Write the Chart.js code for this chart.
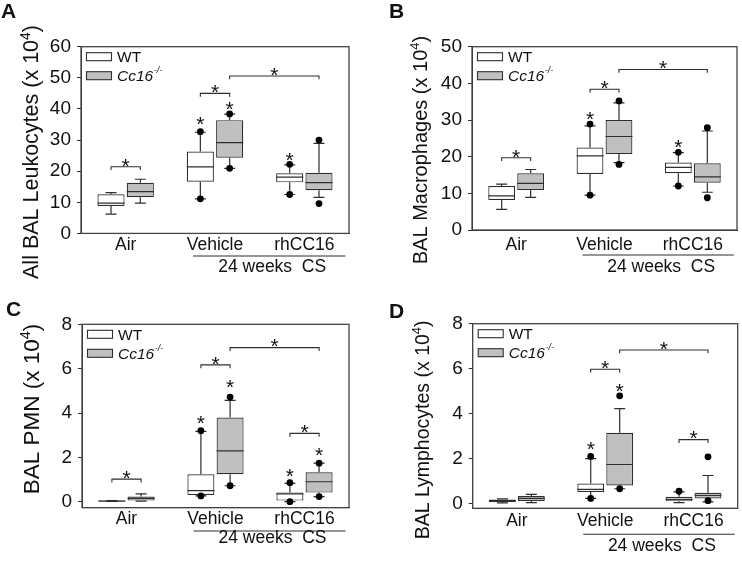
<!DOCTYPE html>
<html>
<head>
<meta charset="utf-8">
<script src="https://cdn.jsdelivr.net/npm/chart.js@4.4.1/dist/chart.umd.min.js"></script>
<style>
  html, body { margin: 0; padding: 0; background: #fff; }
  #fig { position: relative; width: 742px; height: 562px; }
  #fig canvas { position: absolute; }
</style>
</head>
<body>
<div id="fig">
  <canvas id="panelA" width="371" height="281" style="left:0;top:0"></canvas>
  <canvas id="panelB" width="371" height="281" style="left:371px;top:0"></canvas>
  <canvas id="panelC" width="371" height="281" style="left:0;top:281px"></canvas>
  <canvas id="panelD" width="371" height="281" style="left:371px;top:281px"></canvas>
</div>
<script>
const groups = ['Air', 'Vehicle', 'rhCC16'];

// box stats per group: [lower whisker, Q1, median, Q3, upper whisker]
// stars: [group, series (0 = WT, 1 = Cc16-/-), y]; brackets: [group, series, group, series, y]

// A - all BAL leukocytes (x 10^4)
const leukTicks = [0, 10, 20, 30, 40, 50, 60];
const leukWT = [[6.2, 8.8, 9.7, 12.6, 13.1], [11.1, 16.6, 21.4, 26.3, 32.5], [12.5, 16.4, 18.1, 19.3, 22.0]];
const leukKO = [[9.7, 11.6, 13.4, 16.3, 17.4], [20.9, 24.3, 29.2, 36.4, 38.3], [11.6, 13.9, 16.3, 19.5, 28.9]];
const leukDotsWT = [[], [11.1, 32.7], [12.5, 22.2]];
const leukDotsKO = [[], [20.9, 38.4], [9.6, 30.0]];
const leukStars = [[1, 0, 36.8], [1, 1, 41.6], [2, 0, 25.2]];
const leukBrackets = [[0, 0, 0, 1, 21.4], [1, 0, 1, 1, 45.0], [1, 1, 2, 1, 50.6]];

// B - BAL macrophages (x 10^4)
const macTicks = [0, 10, 20, 30, 40, 50];
const macWT = [[5.6, 8.2, 9.3, 12.0, 12.5], [9.5, 15.3, 20.2, 22.5, 28.4], [12.0, 15.5, 17.1, 18.4, 21.1]];
const macKO = [[8.9, 10.9, 12.7, 15.5, 16.5], [18.4, 20.7, 25.5, 30.0, 34.7], [10.3, 12.9, 14.5, 18.2, 27.0]];
const macDotsWT = [[], [9.5, 28.9], [12.0, 21.2]];
const macDotsKO = [[], [17.9, 35.2], [8.8, 27.9]];
const macStars = [[1, 0, 31.8], [2, 0, 24.1]];
const macBrackets = [[0, 0, 0, 1, 19.7], [1, 0, 1, 1, 38.4], [1, 1, 2, 1, 43.8]];

// C - BAL PMN (x 10^4)
const pmnTicks = [0, 2, 4, 6, 8];
const pmnWT = [[0.01, 0.02, 0.03, 0.05, 0.05], [0.26, 0.30, 0.50, 1.24, 3.17], [0.0, 0.05, 0.35, 0.42, 0.83]];
const pmnKO = [[0.03, 0.05, 0.15, 0.23, 0.35], [0.72, 1.24, 2.29, 3.80, 4.57], [0.23, 0.41, 0.90, 1.33, 1.74]];
const pmnDotsWT = [[], [0.26, 3.20], [0.0, 0.86]];
const pmnDotsKO = [[], [0.72, 4.72], [0.23, 1.74]];
const pmnStars = [[1, 0, 3.79], [1, 1, 5.41], [2, 0, 1.40], [2, 1, 2.36]];
const pmnBrackets = [[0, 0, 0, 1, 1.02], [1, 0, 1, 1, 6.17], [1, 1, 2, 1, 6.95], [2, 0, 2, 1, 3.08]];

// D - BAL lymphocytes (x 10^4)
const lymTicks = [0, 2, 4, 6, 8];
const lymWT = [[0.02, 0.06, 0.11, 0.17, 0.20], [0.22, 0.51, 0.62, 0.88, 1.99], [0.03, 0.09, 0.18, 0.29, 0.51]];
const lymKO = [[0.03, 0.11, 0.22, 0.33, 0.40], [0.65, 0.80, 1.73, 3.14, 4.22], [0.07, 0.22, 0.35, 0.47, 1.24]];
const lymDotsWT = [[], [0.22, 2.09], [0.54]];
const lymDotsKO = [[], [0.65, 4.79], [0.12, 2.07]];
const lymStars = [[1, 0, 2.63], [1, 1, 5.23]];
const lymBrackets = [[1, 0, 1, 1, 5.97], [1, 1, 2, 1, 6.83], [2, 0, 2, 1, 2.84]];

const FONT = '"Liberation Sans", Arial, Helvetica, sans-serif';
const INK = '#2e2e2e';
const TEXT = '#111111';
const GREY = '#c0c0c0';

const panels = [
  { id: 'panelA', letter: 'A', letterPos: [1, 18], stats: [leukWT, leukKO], dots: [leukDotsWT, leukDotsKO],
    stars: leukStars, brackets: leukBrackets, ticks: leukTicks, yMin: 0, yMax: 60,
    area: { left: 81, right: 349, top: 46.7, bottom: 233.4 }, xPad: 1,
    title: 'All BAL Leukocytes (x 10', titleSize: 21.5, titlePos: [32, 152],
    csLine: 22.6, csText: 33.3 },
  { id: 'panelB', letter: 'B', letterPos: [18, 18], stats: [macWT, macKO], dots: [macDotsWT, macDotsKO],
    stars: macStars, brackets: macBrackets, ticks: macTicks, yMin: 0, yMax: 50,
    area: { left: 101, right: 366, top: 46.7, bottom: 230 }, xPad: 4.5,
    title: 'BAL Macrophages (x 10', titleSize: 20, titlePos: [50, 150],
    csLine: 25, csText: 36.7 },
  { id: 'panelC', letter: 'C', letterPos: [6, 35], stats: [pmnWT, pmnKO], dots: [pmnDotsWT, pmnDotsKO],
    stars: pmnStars, brackets: pmnBrackets, ticks: pmnTicks, yMin: -0.27, yMax: 8,
    area: { left: 82, right: 349, top: 43.3, bottom: 226.7 }, xPad: 0.8,
    title: 'BAL PMN (x 10', titleSize: 22.5, titlePos: [32, 128],
    csLine: 23.3, csText: 30 },
  { id: 'panelD', letter: 'D', letterPos: [18, 37], stats: [lymWT, lymKO], dots: [lymDotsWT, lymDotsKO],
    stars: lymStars, brackets: lymBrackets, ticks: lymTicks, yMin: -0.22, yMax: 8,
    area: { left: 101.7, right: 366.7, top: 42.7, bottom: 227.3 }, xPad: 2.2,
    title: 'BAL Lymphocytes (x 10', titleSize: 19.5, titlePos: [52, 149],
    csLine: 26, csText: 37.7 }
];

const STAR = 21;
function star(ctx, x, yc) {
  ctx.font = STAR + 'px ' + FONT;
  ctx.textAlign = 'center';
  ctx.textBaseline = 'alphabetic';
  ctx.fillText('*', x, yc + STAR * 0.58);
}

function boxExtras(p) {
  return {
    id: 'boxExtras',
    afterDatasetsDraw(chart) {
      const { ctx, chartArea: a, scales: { x, y } } = chart;
      const bar = (g, s) => chart.getDatasetMeta(s).data[g];
      ctx.save();
      ctx.strokeStyle = INK;
      ctx.fillStyle = TEXT;
      ctx.lineWidth = 1.2;

      // whiskers, caps, medians
      p.stats.forEach((rows, s) => rows.forEach((r, g) => {
        const el = bar(g, s), cx = el.x, half = el.width / 2;
        const [lo, q1, med, q3, hi] = r.map(v => y.getPixelForValue(v));
        ctx.beginPath();
        ctx.moveTo(cx, q3); ctx.lineTo(cx, hi);
        ctx.moveTo(cx - 5.5, hi); ctx.lineTo(cx + 5.5, hi);
        ctx.moveTo(cx, q1); ctx.lineTo(cx, lo);
        ctx.moveTo(cx - 5.5, lo); ctx.lineTo(cx + 5.5, lo);
        ctx.moveTo(cx - half, med); ctx.lineTo(cx + half, med);
        ctx.stroke();
      }));

      // outlier dots
      ctx.fillStyle = '#000';
      p.dots.forEach((rows, s) => rows.forEach((vals, g) => {
        vals.forEach(v => {
          ctx.beginPath();
          ctx.arc(bar(g, s).x, y.getPixelForValue(v), 3.4, 0, Math.PI * 2);
          ctx.fill();
        });
      }));

      // significance stars over boxes
      ctx.fillStyle = TEXT;
      p.stars.forEach(([g, s, v]) => star(ctx, bar(g, s).x, y.getPixelForValue(v)));

      // brackets
      ctx.lineWidth = 1.1;
      p.brackets.forEach(([g1, s1, g2, s2, v]) => {
        const x1 = bar(g1, s1).x, x2 = bar(g2, s2).x, yy = y.getPixelForValue(v);
        ctx.beginPath();
        ctx.moveTo(x1, yy + 3.3); ctx.lineTo(x1, yy); ctx.lineTo(x2, yy); ctx.lineTo(x2, yy + 3.3);
        ctx.stroke();
        star(ctx, (x1 + x2) / 2, yy - 6.3);
      });

      // frame
      ctx.lineWidth = 1.3;
      ctx.strokeStyle = '#444';
      ctx.strokeRect(a.left, a.top, a.right - a.left, a.bottom - a.top);

      // legend
      ctx.lineWidth = 1.1;
      ctx.strokeStyle = INK;
      [['#ffffff', 10], [GREY, 29]].forEach(([fill, dy], i) => {
        ctx.fillStyle = fill;
        ctx.fillRect(a.left + 5.5, a.top + dy - 4, 25, 8);
        ctx.strokeRect(a.left + 5.5, a.top + dy - 4, 25, 8);
        ctx.fillStyle = TEXT;
        ctx.textAlign = 'left';
        ctx.textBaseline = 'middle';
        const tx = a.left + 36;
        if (i === 0) {
          ctx.font = '15.5px ' + FONT;
          ctx.fillText('WT', tx, a.top + dy + 1);
        } else {
          ctx.font = 'italic 15.5px ' + FONT;
          ctx.fillText('Cc16', tx, a.top + dy + 1);
          const w = ctx.measureText('Cc16').width;
          ctx.font = 'italic 9px ' + FONT;
          ctx.fillText('-/-', tx + w + 0.5, a.top + dy - 5);
        }
      });

      // "24 weeks CS" grouping line
      const lx1 = x.getPixelForValue(1) - 22, lx2 = x.getPixelForValue(2) + 41;
      ctx.beginPath();
      ctx.moveTo(lx1, a.bottom + p.csLine);
      ctx.lineTo(lx2, a.bottom + p.csLine);
      ctx.stroke();
      ctx.fillStyle = TEXT;
      ctx.font = '17.5px ' + FONT;
      ctx.textAlign = 'center';
      ctx.textBaseline = 'middle';
      ctx.fillText('24 weeks  CS', (lx1 + lx2) / 2 + 3, a.bottom + p.csText);

      // y axis title with superscript
      const size = p.titleSize;
      ctx.save();
      ctx.translate(p.titlePos[0], p.titlePos[1]);
      ctx.rotate(-Math.PI / 2);
      ctx.font = size + 'px ' + FONT;
      const w1 = ctx.measureText(p.title).width, w3 = ctx.measureText(')').width;
      ctx.font = (size * 0.65) + 'px ' + FONT;
      const w2 = ctx.measureText('4').width;
      const x0 = -(w1 + w2 + w3) / 2;
      const base = size * 0.3;
      ctx.textAlign = 'left';
      ctx.textBaseline = 'alphabetic';
      ctx.font = size + 'px ' + FONT;
      ctx.fillText(p.title, x0, base);
      ctx.font = (size * 0.65) + 'px ' + FONT;
      ctx.fillText('4', x0 + w1, base - size * 0.4);
      ctx.font = size + 'px ' + FONT;
      ctx.fillText(')', x0 + w1 + w2, base);
      ctx.restore();

      // panel letter
      ctx.font = 'bold 21px ' + FONT;
      ctx.textAlign = 'left';
      ctx.textBaseline = 'alphabetic';
      ctx.fillText(p.letter, p.letterPos[0], p.letterPos[1]);
      ctx.restore();
    }
  };
}

panels.forEach(p => {
  new Chart(document.getElementById(p.id), {
    type: 'bar',
    data: {
      labels: groups,
      datasets: [
        { label: 'WT', data: p.stats[0].map(r => [r[1], r[3]]), backgroundColor: '#ffffff',
          borderColor: INK, borderWidth: 1.2, borderSkipped: false },
        { label: 'Cc16-/-', data: p.stats[1].map(r => [r[1], r[3]]), backgroundColor: GREY,
          borderColor: INK, borderWidth: 1.2, borderSkipped: false }
      ]
    },
    options: {
      responsive: false,
      animation: false,
      events: [],
      layout: { padding: { left: 0, top: p.area.top, right: 371 - p.area.right, bottom: 0 } },
      datasets: { bar: { categoryPercentage: 0.656, barPercentage: 0.925 } },
      scales: {
        x: {
          grid: { display: false, drawTicks: false },
          border: { display: true, color: INK, width: 1 },
          ticks: { color: TEXT, font: { family: FONT, size: 17.5 }, padding: p.xPad, maxRotation: 0 },
          afterFit: s => { s.height = 281 - p.area.bottom; }
        },
        y: {
          min: p.yMin,
          max: p.yMax,
          afterBuildTicks: s => { s.ticks = p.ticks.map(v => ({ value: v })); },
          grid: { display: true, drawOnChartArea: false, drawTicks: true, tickLength: 4, color: INK },
          border: { display: true, color: INK, width: 1 },
          ticks: { color: TEXT, font: { family: FONT, size: 19 }, padding: 6, callback: v => String(v) },
          afterFit: s => { s.width = p.area.left; }
        }
      },
      plugins: { legend: { display: false }, tooltip: { enabled: false } }
    },
    plugins: [boxExtras(p)]
  });
});
</script>
</body>
</html>
